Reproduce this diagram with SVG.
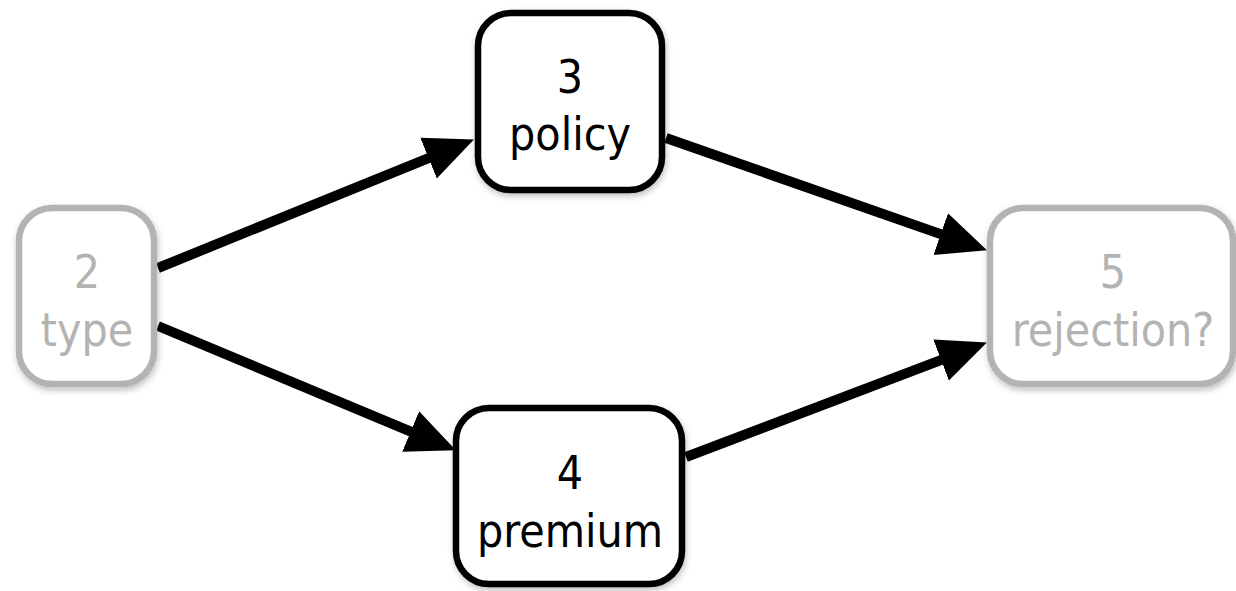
<svg xmlns="http://www.w3.org/2000/svg" width="1236" height="591" viewBox="0 0 1236 591">
<style>
.box{fill:#fff;stroke-width:6.5;filter:url(#sh)}
.on{stroke:#000}
.off{stroke:#b3b3b3}
.t{font-family:"DejaVu Sans Condensed","DejaVu Sans",sans-serif;font-size:46px;text-anchor:middle}
.tk{fill:#000}
.tg{fill:#b3b3b3}
.edge{stroke:#000;stroke-width:10;fill:none;marker-end:url(#ah)}
</style>
<defs>
<filter id="sh" x="-20%" y="-20%" width="140%" height="140%">
<feDropShadow dx="1" dy="3" stdDeviation="3" flood-color="#000" flood-opacity="0.25"/>
</filter>
<marker id="ah" markerUnits="userSpaceOnUse" markerWidth="60" markerHeight="50" viewBox="0 -25 60 50" refX="6" refY="0" orient="auto">
<path d="M0,-22 L49,0 L0,22 Z" fill="#000"/>
</marker>
</defs>
<g id="connectors">
<line class="edge" x1="158" y1="268" x2="434.1" y2="155.8"/>
<line class="edge" x1="158" y1="326" x2="416.2" y2="433.8"/>
<line class="edge" x1="666" y1="138" x2="946.4" y2="236.1"/>
<line class="edge" x1="686" y1="457" x2="946.7" y2="357.9"/>
</g>
<g id="node2">
<rect class="box off" x="19" y="208" width="135" height="176" rx="33"/>
<text class="t tg" x="87" y="288">2</text>
<text class="t tg" x="87" y="346">type</text>
</g>
<g id="node3">
<rect class="box on" x="478" y="13" width="184" height="177" rx="33"/>
<text class="t tk" x="570" y="93">3</text>
<text class="t tk" x="570" y="150">policy</text>
</g>
<g id="node4">
<rect class="box on" x="456" y="408" width="226" height="176" rx="33"/>
<text class="t tk" x="570" y="489">4</text>
<text class="t tk" x="570" y="547">premium</text>
</g>
<g id="node5">
<rect class="box off" x="990" y="208" width="243" height="176" rx="33"/>
<text class="t tg" x="1113" y="288">5</text>
<text class="t tg" x="1113" y="346">rejection?</text>
</g>
</svg>
